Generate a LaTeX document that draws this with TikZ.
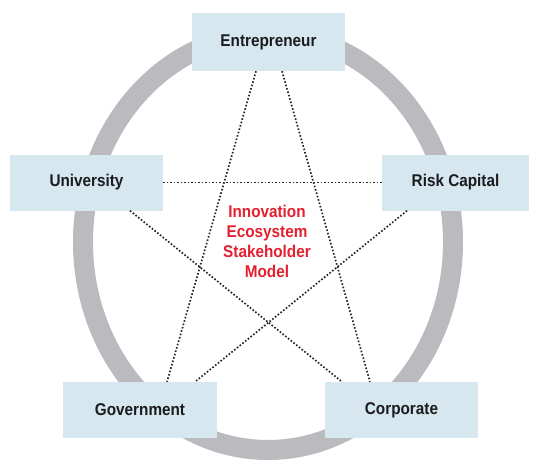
\documentclass[tikz,border=0pt]{standalone}
\usepackage{fontspec}
\setmainfont{Liberation Sans}
\newfontfamily\condfont[FakeStretch=0.9]{Liberation Sans}
\definecolor{boxfill}{HTML}{D6E7F0}
\definecolor{ringgray}{HTML}{BBBBBF}
\definecolor{labelred}{HTML}{E3202F}
\definecolor{textdark}{HTML}{1C1C1E}
\begin{document}
\begin{tikzpicture}[x=1pt,y=-1pt,
  stakebox/.style={fill=boxfill,draw=none,inner sep=0pt,minimum height=56pt,
    font=\condfont\fontsize{17}{19}\selectfont\bfseries,text=textdark},
  ring/.style={draw=ringgray,line width=20pt},
  link/.style={draw=black!85,line width=1.7pt,dash pattern=on 1.6pt off 1.9pt},
  centerlabel/.style={align=center,text=labelred,font=\condfont\fontsize{17}{20}\selectfont\bfseries}]
\useasboundingbox (0,0) rectangle (533,461);
\draw[ring] (268,242) ellipse [x radius=185, y radius=208];
\node[stakebox,minimum width=153pt,minimum height=58pt] (ent) at (268.5,42) {Entrepreneur};
\node[stakebox,minimum width=153pt] (uni) at (86.5,182.5) {University};
\node[stakebox,minimum width=147pt] (risk) at (455.5,182.5) {Risk Capital};
\node[stakebox,minimum width=154pt] (gov) at (140,410) {Government};
\node[stakebox,minimum width=153pt] (corp) at (401.5,410) {Corporate};
\node[centerlabel] (core) at (267,241) {Innovation\\Ecosystem\\Stakeholder\\Model};
\draw[link] ([xshift=-12.5pt]ent.south) -- ([xshift=27pt]gov.north);
\draw[link] ([xshift=13.5pt]ent.south) -- ([xshift=-31.5pt]corp.north);
\draw[link] (uni.east) -- (risk.west);
\draw[link] ([xshift=43.5pt]uni.south) -- ([xshift=-59.5pt]corp.north);
\draw[link] ([xshift=-48.5pt]risk.south) -- ([xshift=55pt]gov.north);
\end{tikzpicture}
\end{document}
